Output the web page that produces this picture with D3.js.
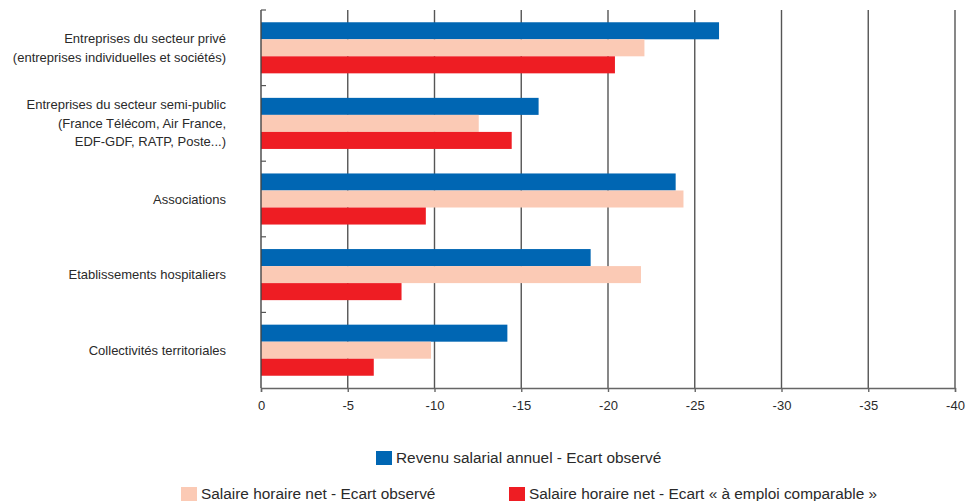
<!DOCTYPE html>
<html><head><meta charset="utf-8">
<script src="https://cdn.jsdelivr.net/npm/d3@7"></script>
<style>body{margin:0;background:#fff}svg{display:block}text{font-family:"Liberation Sans",Arial,sans-serif;fill:#2a2a2a}</style>
</head><body><svg id="c" width="980" height="501"></svg>
<script>
const categories = [
  ["Entreprises du secteur privé","(entreprises individuelles et sociétés)"],
  ["Entreprises du secteur semi-public","(France Télécom, Air France,","EDF-GDF, RATP, Poste...)"],
  ["Associations"],
  ["Etablissements hospitaliers"],
  ["Collectivités territoriales"]
];
const seriesNames = ["Revenu salarial annuel - Ecart observé","Salaire horaire net - Ecart observé","Salaire horaire net - Ecart « à emploi comparable »"];
const revenuAnnuel = [-26.4,-16.0,-23.9,-19.0,-14.2];
const salaireObserve = [-22.1,-12.55,-24.35,-21.9,-9.8];
const salaireComparable = [-20.4,-14.45,-9.5,-8.1,-6.5];
const xTicks = [0,-5,-10,-15,-20,-25,-30,-35,-40];
const xTickLabels = ["0","-5","-10","-15","-20","-25","-30","-35","-40"];
const colors = ["#0066B3","#FBCAB5","#EE1D23"];

const series = [revenuAnnuel, salaireObserve, salaireComparable];
const svg = d3.select("#c");
const x = d3.scaleLinear().domain([0,-40]).range([261,955]);
const y = d3.scaleBand().domain(d3.range(categories.length)).range([10,388]).padding(0);
const ys = d3.scaleBand().domain(d3.range(series.length)).range([0,y.bandwidth()]).paddingInner(0).paddingOuter(0.72);

// gridlines
svg.append("g").selectAll("line").data(xTicks.slice(1)).join("line")
  .attr("x1",d=>x(d)).attr("x2",d=>x(d)).attr("y1",10).attr("y2",388)
  .attr("stroke","#555").attr("stroke-width",1.4);

// bars
series.forEach((vals,si)=>{
  svg.append("g").selectAll("rect").data(vals).join("rect")
    .attr("x",x(0)).attr("y",(d,i)=>y(i)+ys(si))
    .attr("width",d=>x(d)-x(0)).attr("height",ys.bandwidth())
    .attr("fill",colors[si]);
});

// bottom axis
const xa = svg.append("g").attr("transform","translate(0,388)")
  .call(d3.axisBottom(x).tickValues(xTicks).tickSize(4).tickPadding(9).tickFormat((d,i)=>xTickLabels[i]));
xa.select(".domain").attr("stroke","#666").attr("stroke-width",1.4);
xa.selectAll(".tick line").attr("stroke","#666").attr("stroke-width",1.4);
xa.selectAll("text").style("font-size","13px").style("fill","#2a2a2a").style("font-family",'"Liberation Sans",Arial,sans-serif');

// left axis
svg.append("line").attr("x1",261).attr("x2",261).attr("y1",10).attr("y2",388).attr("stroke","#444").attr("stroke-width",1.4);
const bounds = d3.range(categories.length).map(i=>y(i));
svg.append("g").selectAll("line").data(bounds).join("line")
  .attr("x1",261).attr("x2",266).attr("y1",d=>d).attr("y2",d=>d).attr("stroke","#555").attr("stroke-width",1.2);

// category labels
const lh = 18.5;
categories.forEach((lines,i)=>{
  const cy = y(i)+y.bandwidth()/2;
  const t = svg.append("text").attr("text-anchor","end").style("font-size","13px");
  lines.forEach((l,j)=>{
    t.append("tspan").attr("x",226).attr("y",cy+(j-(lines.length-1)/2)*lh).attr("dy","0.35em").text(l);
  });
});

// legend
const leg = [
  {i:0,x:376,y:458},
  {i:1,x:181,y:494},
  {i:2,x:509,y:494}
];
leg.forEach(L=>{
  svg.append("rect").attr("x",L.x).attr("y",L.y-7).attr("width",16).attr("height",14).attr("fill",colors[L.i]);
  svg.append("text").attr("x",L.x+20).attr("y",L.y).attr("dy","0.35em").style("font-size","15.4px").text(seriesNames[L.i]);
});
</script></body></html>
